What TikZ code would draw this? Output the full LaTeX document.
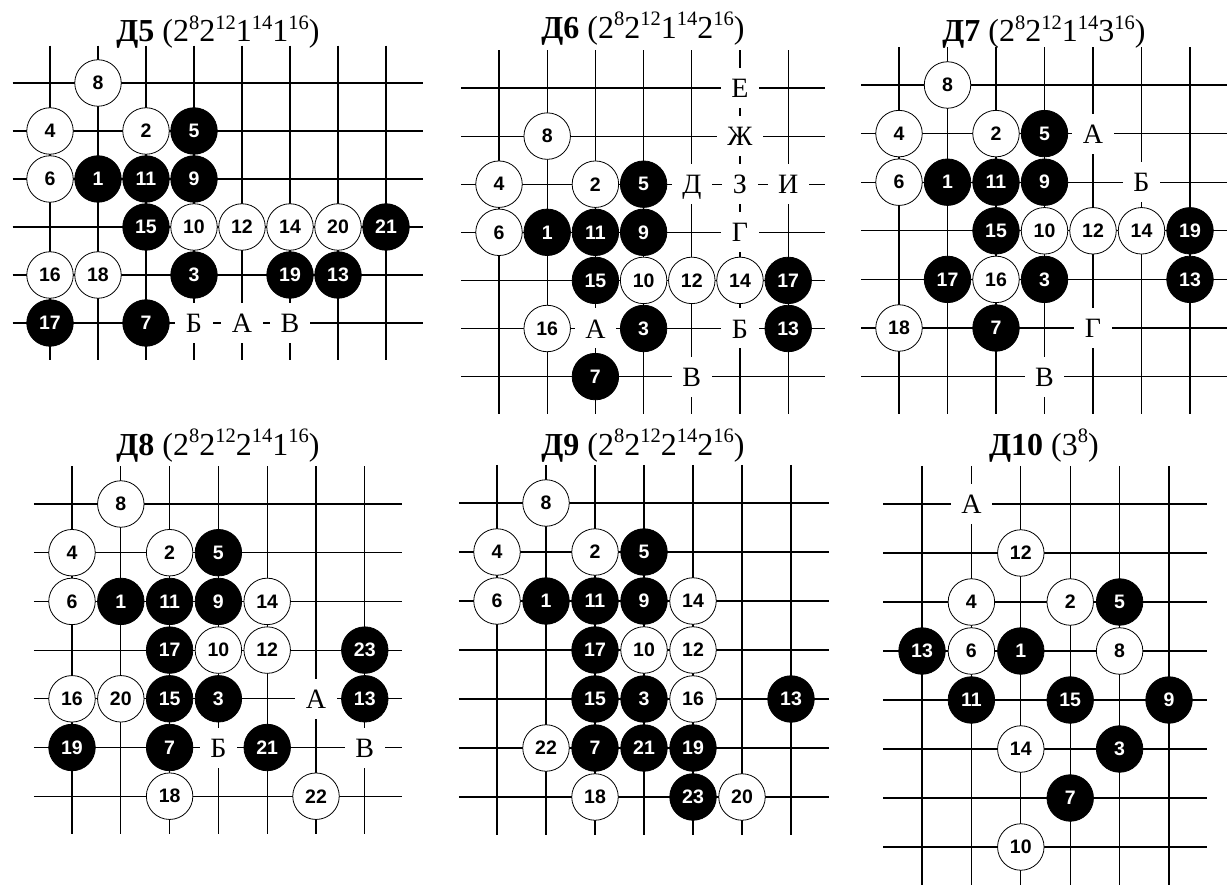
\documentclass[tikz,border=0pt]{standalone}
\usepackage{fontspec}
\setmainfont{Liberation Serif}
\newfontfamily\numfont{Liberation Sans}
\newcommand{\pw}[1]{\raisebox{0.4em}{\fontsize{20.5}{20.5}\selectfont #1}}
\newcommand{\goban}[2]{%
  \foreach \i in {0,...,#1} \draw (\i,-0.78) -- (\i,#2+0.77);
  \foreach \j in {0,...,#2} \draw (-0.78,\j) -- (#1+0.77,\j);}

\begin{document}
\begin{tikzpicture}[x=1pt,y=-1pt,line width=1.1pt,
  wst/.style={circle,draw=black,line width=0.8pt,fill=white,minimum size=46.5pt,inner sep=0pt,
    font=\numfont\bfseries\fontsize{19.5}{19.5}\selectfont},
  bst/.style={wst,fill=black,text=white},
  ltr/.style={fill=white,inner sep=10.5pt,text height=19pt,text depth=0pt,font=\fontsize{28}{28}\selectfont},
  ttl/.style={anchor=base,font=\fontsize{32}{32}\selectfont}]
\useasboundingbox (0,0) rectangle (1232,885);

% D5
\node[ttl] (t5) at (218,42) {\textbf{Д5} (2\pw{8}2\pw{12}1\pw{14}1\pw{16})};
\begin{scope}[shift={(50pt,-83pt)},x=48pt,y=-48pt]
  \goban{7}{5}
  \foreach \col/\row/\lab in {1/0/8,0/1/4,2/1/2,0/2/6,3/3/10,4/3/12,5/3/14,6/3/20,0/4/16,1/4/18}
    \node[wst] (d5n\lab) at (\col,\row) {\lab};
  \foreach \col/\row/\lab in {3/1/5,1/2/1,2/2/11,3/2/9,2/3/15,7/3/21,3/4/3,5/4/19,6/4/13,0/5/17,2/5/7}
    \node[bst] (d5n\lab) at (\col,\row) {\lab};
  \node[ltr] (d5b) at (3,5) {Б};
  \node[ltr] (d5a) at (4,5) {А};
  \node[ltr] (d5v) at (5,5) {В};
\end{scope}

% D6
\node[ttl] (t6) at (643,38.5) {\textbf{Д6} (2\pw{8}2\pw{12}1\pw{14}2\pw{16})};
\begin{scope}[shift={(499pt,-88pt)},x=48.2pt,y=-48.1pt]
  \goban{6}{6}
  \foreach \col/\row/\lab in {1/1/8,0/2/4,2/2/2,0/3/6,3/4/10,4/4/12,5/4/14,1/5/16}
    \node[wst] (d6n\lab) at (\col,\row) {\lab};
  \foreach \col/\row/\lab in {3/2/5,1/3/1,2/3/11,3/3/9,2/4/15,6/4/17,3/5/3,6/5/13,2/6/7}
    \node[bst] (d6n\lab) at (\col,\row) {\lab};
  \node[ltr] (d6e) at (5,0) {Е};
  \node[ltr] (d6zh) at (5,1) {Ж};
  \node[ltr] (d6d) at (4,2) {Д};
  \node[ltr] (d6z) at (5,2) {З};
  \node[ltr] (d6i) at (6,2) {И};
  \node[ltr] (d6g) at (5,3) {Г};
  \node[ltr] (d6a) at (2,5) {А};
  \node[ltr] (d6b) at (5,5) {Б};
  \node[ltr] (d6v) at (4,6) {В};
\end{scope}

% D7
\node[ttl] (t7) at (1044,42) {\textbf{Д7} (2\pw{8}2\pw{12}1\pw{14}3\pw{16})};
\begin{scope}[shift={(899pt,-85pt)},x=48.5pt,y=-48.6pt]
  \goban{6}{6}
  \foreach \col/\row/\lab in {1/0/8,0/1/4,2/1/2,0/2/6,3/3/10,4/3/12,5/3/14,2/4/16,0/5/18}
    \node[wst] (d7n\lab) at (\col,\row) {\lab};
  \foreach \col/\row/\lab in {3/1/5,1/2/1,2/2/11,3/2/9,2/3/15,6/3/19,1/4/17,3/4/3,6/4/13,2/5/7}
    \node[bst] (d7n\lab) at (\col,\row) {\lab};
  \node[ltr] (d7a) at (4,1) {А};
  \node[ltr] (d7b) at (5,2) {Б};
  \node[ltr] (d7g) at (4,5) {Г};
  \node[ltr] (d7v) at (3,6) {В};
\end{scope}

% D8
\node[ttl] (t8) at (218,455) {\textbf{Д8} (2\pw{8}2\pw{12}2\pw{14}1\pw{16})};
\begin{scope}[shift={(72pt,-504pt)},x=48.8pt,y=-48.7pt]
  \goban{6}{6}
  \foreach \col/\row/\lab in {1/0/8,0/1/4,2/1/2,0/2/6,4/2/14,3/3/10,4/3/12,0/4/16,1/4/20,2/6/18,5/6/22}
    \node[wst] (d8n\lab) at (\col,\row) {\lab};
  \foreach \col/\row/\lab in {3/1/5,1/2/1,2/2/11,3/2/9,2/3/17,6/3/23,2/4/15,3/4/3,6/4/13,0/5/19,2/5/7,4/5/21}
    \node[bst] (d8n\lab) at (\col,\row) {\lab};
  \node[ltr] (d8a) at (5,4) {А};
  \node[ltr] (d8b) at (3,5) {Б};
  \node[ltr] (d8v) at (6,5) {В};
\end{scope}

% D9
\node[ttl] (t9) at (643,455) {\textbf{Д9} (2\pw{8}2\pw{12}2\pw{14}2\pw{16})};
\begin{scope}[shift={(497pt,-503pt)},x=49pt,y=-49pt]
  \goban{6}{6}
  \foreach \col/\row/\lab in {1/0/8,0/1/4,2/1/2,0/2/6,4/2/14,3/3/10,4/3/12,4/4/16,1/5/22,2/6/18,5/6/20}
    \node[wst] (d9n\lab) at (\col,\row) {\lab};
  \foreach \col/\row/\lab in {3/1/5,1/2/1,2/2/11,3/2/9,2/3/17,2/4/15,3/4/3,6/4/13,2/5/7,3/5/21,4/5/19,4/6/23}
    \node[bst] (d9n\lab) at (\col,\row) {\lab};
\end{scope}

% D10
\node[ttl] (t10) at (1044,455) {\textbf{Д10} (3\pw{8})};
\begin{scope}[shift={(922pt,-504pt)},x=49.4pt,y=-49pt]
  \goban{5}{7}
  \foreach \col/\row/\lab in {2/1/12,1/2/4,3/2/2,1/3/6,4/3/8,2/5/14,2/7/10}
    \node[wst] (d10n\lab) at (\col,\row) {\lab};
  \foreach \col/\row/\lab in {4/2/5,0/3/13,2/3/1,1/4/11,3/4/15,5/4/9,4/5/3,3/6/7}
    \node[bst] (d10n\lab) at (\col,\row) {\lab};
  \node[ltr] (d10a) at (1,0) {А};
\end{scope}
\end{tikzpicture}
\end{document}
